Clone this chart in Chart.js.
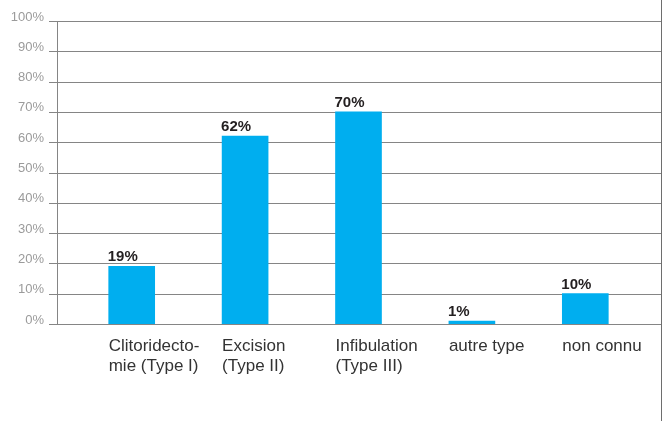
<!DOCTYPE html>
<html>
<head>
<meta charset="utf-8">
<script src="https://cdn.jsdelivr.net/npm/chart.js@4.4.1/dist/chart.umd.min.js"></script>
<style>
  html, body { margin: 0; padding: 0; background: #fff; }
  #wrap { width: 664px; height: 421px; }
</style>
</head>
<body>
<div id="wrap"><canvas id="mgf" width="664" height="421"></canvas></div>
<script>
// Types de MGF — part des cas (%)

var categories = [
  ['Clitoridecto-', 'mie (Type I)'],
  ['Excision', '(Type II)'],
  ['Infibulation', '(Type III)'],
  'autre type',
  'non connu'
];
var values = [19, 62, 70, 1, 10];
var yTickLabels = ['0%', '10%', '20%', '30%', '40%', '50%', '60%', '70%', '80%', '90%', '100%'];

var COLORS = {
  bar: '#00AEEF',
  grid: '#858585',
  border: '#6e6e6e',
  tick: '#9b9b9b',
  label: '#333333',
  value: '#231f20'
};
var FONT = "'Liberation Sans', Arial, sans-serif";

// horizontal rules + y axis line, drawn across the full width
var gridPlugin = {
  id: 'fullGrid',
  beforeDatasetsDraw: function (chart) {
    var ctx = chart.ctx;
    var y = chart.scales.y;
    var area = chart.chartArea;
    var x0 = area.left - 26;
    var x1 = chart.width - 3;
    var axisX = area.left - 18;
    ctx.save();
    ctx.strokeStyle = COLORS.grid;
    ctx.lineWidth = 1;
    y.ticks.forEach(function (t) {
      var py = Math.round(y.getPixelForValue(t.value)) + 0.5;
      ctx.beginPath();
      ctx.moveTo(x0, py);
      ctx.lineTo(x1, py);
      ctx.stroke();
    });
    ctx.beginPath();
    ctx.moveTo(axisX + 0.5, Math.round(y.getPixelForValue(100)) + 0.5);
    ctx.lineTo(axisX + 0.5, Math.round(y.getPixelForValue(0)) + 0.5);
    ctx.stroke();
    ctx.restore();
  },
  afterDraw: function (chart) {
    var ctx = chart.ctx;
    ctx.save();
    ctx.strokeStyle = COLORS.border;
    ctx.lineWidth = 1;
    ctx.beginPath();
    ctx.moveTo(chart.width - 2.5, 0);
    ctx.lineTo(chart.width - 2.5, chart.height);
    ctx.stroke();
    ctx.restore();
  }
};

// bold value above each bar, left-aligned on the bar edge
var valuePlugin = {
  id: 'barValues',
  afterDatasetsDraw: function (chart) {
    var ctx = chart.ctx;
    var meta = chart.getDatasetMeta(0);
    ctx.save();
    ctx.font = 'bold 15px ' + FONT;
    ctx.fillStyle = COLORS.value;
    ctx.textAlign = 'left';
    ctx.textBaseline = 'alphabetic';
    meta.data.forEach(function (bar, i) {
      ctx.fillText(values[i] + '%', bar.x - bar.width / 2 - 1, bar.y - 5);
    });
    ctx.restore();
  }
};

new Chart(document.getElementById('mgf'), {
  type: 'bar',
  data: {
    labels: categories,
    datasets: [{
      data: values,
      backgroundColor: COLORS.bar,
      barThickness: 46
    }]
  },
  options: {
    responsive: false,
    animation: false,
    layout: { padding: { top: 21, right: 22, left: 0, bottom: 0 } },
    plugins: {
      legend: { display: false },
      tooltip: { enabled: false }
    },
    scales: {
      x: {
        grid: { display: false, drawTicks: false },
        border: { display: false },
        afterFit: function (scale) {
          scale.height = 97;
          scale.paddingLeft = 0;
          scale.paddingRight = 0;
        },
        ticks: {
          color: COLORS.label,
          font: { family: FONT, size: 17, lineHeight: 1.15 },
          align: 'start',
          labelOffset: -23,
          padding: 13,
          maxRotation: 0,
          minRotation: 0,
          autoSkip: false
        }
      },
      y: {
        min: 0,
        max: 100,
        grid: { display: false, drawTicks: false },
        border: { display: false },
        afterFit: function (scale) {
          scale.width = 75;
          scale.paddingTop = 0;
          scale.paddingBottom = 0;
        },
        ticks: {
          stepSize: 10,
          color: COLORS.tick,
          font: { family: FONT, size: 13 },
          padding: 31,
          labelOffset: -4,
          callback: function (v, i) { return yTickLabels[i]; }
        }
      }
    }
  },
  plugins: [gridPlugin, valuePlugin]
});
</script>
</body>
</html>
